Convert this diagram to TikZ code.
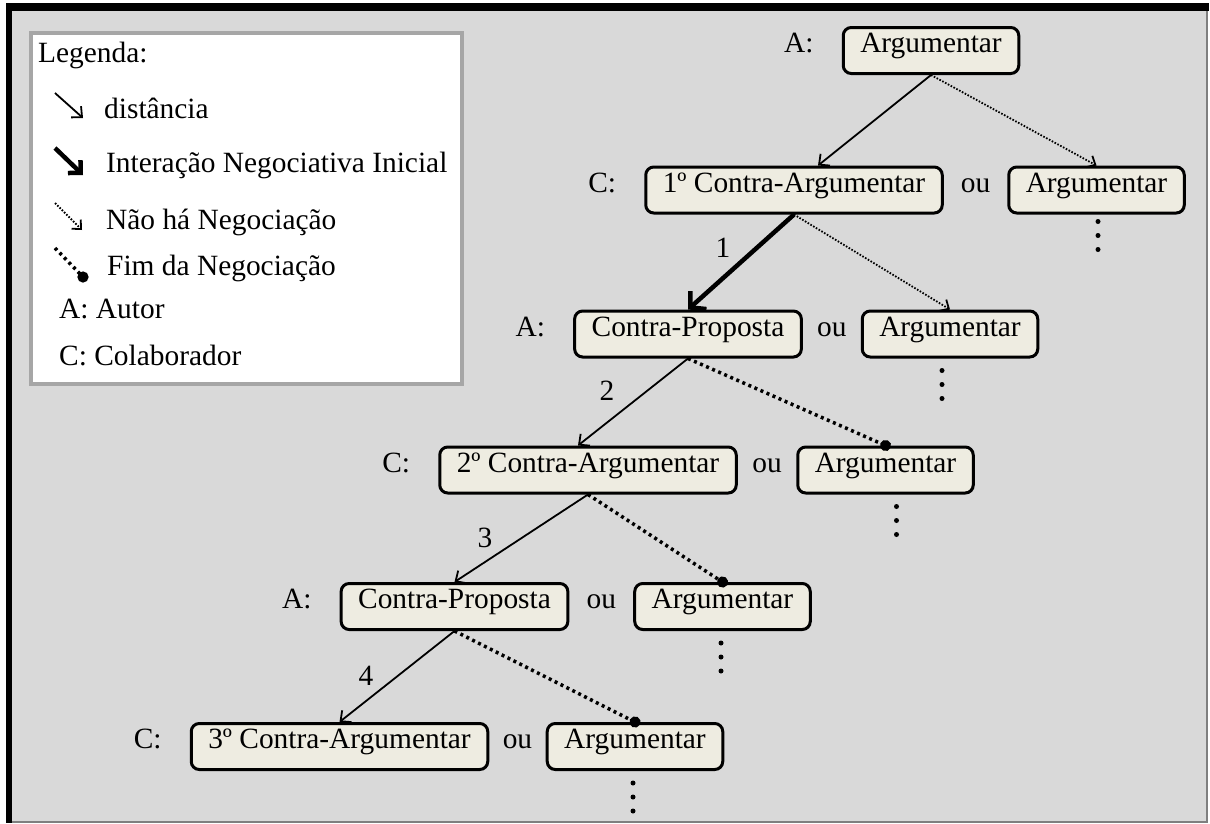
\documentclass[tikz,border=0pt]{standalone}
\usepackage{fontspec}
\setmainfont{Liberation Serif}
\usetikzlibrary{arrows.meta,calc}
\definecolor{panelgray}{HTML}{D9D9D9}
\definecolor{edgegray}{HTML}{7F7F7F}
\definecolor{keygray}{HTML}{A6A6A6}
\definecolor{cream}{HTML}{EEECE1}
\tikzset{
  txt/.style={font=\fontsize{29.4pt}{34pt}\selectfont, inner sep=0pt,
    text height=0.68em, text depth=0.22em},
  movebox/.style={txt, draw, line width=3pt, fill=cream, rounded corners=8pt,
    minimum height=46pt, inner xsep=17pt},
  dist/.style={line width=1.8pt, -{Straight Barb[length=8pt,width=15pt]}},
  initial/.style={line width=4.5pt, -{Straight Barb[length=11pt,width=24pt]}},
  nonego/.style={line width=1.8pt, dash pattern=on 1.6pt off 1.6pt,
    -{Straight Barb[length=7pt,width=13pt]}},
  endnego/.style={line width=3.5pt, dash pattern=on 3pt off 3.6pt,
    -{Circle[length=11pt]}, shorten >=-5.5pt},
  vdot/.style={circle, fill=black, inner sep=0pt, minimum size=5pt},
}
\begin{document}
\begin{tikzpicture}[x=1pt, y=-1pt]
\useasboundingbox (0,0) rectangle (1210,823);
\fill[white] (0,0) rectangle (1210,823);

% panel with its frame
\fill[panelgray] (9,7) rectangle (1208,822);
\draw[edgegray, line width=2pt] (1207,7) -- (1207,822) -- (9,822);
\draw[line width=8pt] (6,7) -- (1209,7);
\draw[line width=6pt] (9,3) -- (9,823);

% legend
\node[draw=keygray, line width=4pt, fill=white, inner sep=0pt,
  minimum width=431pt, minimum height=351pt, anchor=north west] (key) at (29,31) {};
\node[txt, anchor=base west] (kt0) at (38,62) {Legenda:};
\node[txt, anchor=base west] (kt1) at (104,118) {distância};
\node[txt, anchor=base west] (kt2) at (106,172) {Interação Negociativa Inicial};
\node[txt, anchor=base west] (kt3) at (106,229) {Não há Negociação};
\node[txt, anchor=base west] (kt4) at (107,275) {Fim da Negociação};
\node[txt, anchor=base west] (kt5) at (59,318) {A: Autor};
\node[txt, anchor=base west] (kt6) at (59,365) {C: Colaborador};
\coordinate (k1a) at (55,93);  \coordinate (k1b) at (83,118);
\coordinate (k2a) at (55,148); \coordinate (k2b) at (83,175);
\coordinate (k3a) at (55,203); \coordinate (k3b) at (82,230);
\coordinate (k4a) at (55,248); \coordinate (k4b) at (83,277);
\draw[dist] (k1a) -- (k1b);
\draw[initial, -{Straight Barb[length=9pt,width=18pt]}] (k2a) -- (k2b);
\draw[nonego] (k3a) -- (k3b);
\draw[endnego] (k4a) -- (k4b);

% moves of the negotiation
\node[movebox] (r1) at (931,50.5) {Argumentar};
\node[movebox] (c1) at (794,190) {1º Contra-Argumentar};
\node[movebox] (a2) at (1096.5,190) {Argumentar};
\node[movebox] (p1) at (688,334) {Contra-Proposta};
\node[movebox] (a3) at (950,334) {Argumentar};
\node[movebox] (c2) at (588,470) {2º Contra-Argumentar};
\node[movebox] (a4) at (885.5,470) {Argumentar};
\node[movebox] (p2) at (454.5,606.5) {Contra-Proposta};
\node[movebox] (a5) at (722.5,606.5) {Argumentar};
\node[movebox] (c3) at (339.5,746.5) {3º Contra-Argumentar};
\node[movebox] (a6) at (635,746.5) {Argumentar};

% speaker of each row
\node[txt, anchor=east] (s1) at ([xshift=-28pt]r1.west) {A:};
\node[txt, anchor=east] (s2) at ([xshift=-28pt]c1.west) {C:};
\node[txt, anchor=east] (s3) at ([xshift=-28pt]p1.west) {A:};
\node[txt, anchor=east] (s4) at ([xshift=-28pt]c2.west) {C:};
\node[txt, anchor=east] (s5) at ([xshift=-28pt]p2.west) {A:};
\node[txt, anchor=east] (s6) at ([xshift=-28pt]c3.west) {C:};

% alternatives
\node[txt] (o2) at ($(c1.east)!0.5!(a2.west)$) {ou};
\node[txt] (o3) at ($(p1.east)!0.5!(a3.west)$) {ou};
\node[txt] (o4) at ($(c2.east)!0.5!(a4.west)$) {ou};
\node[txt] (o5) at ($(p2.east)!0.5!(a5.west)$) {ou};
\node[txt] (o6) at ($(c3.east)!0.5!(a6.west)$) {ou};

% connectors
\draw[dist] (r1.south) -- ([xshift=24pt]c1.north);
\draw[nonego] (r1.south) -- (a2.north);
\draw[initial] (c1.south) -- (p1.north);
\draw[nonego] (c1.south) -- (a3.north);
\draw[dist] (p1.south) -- ([xshift=-10pt]c2.north);
\draw[endnego] (p1.south) -- (a4.north);
\draw[dist] (c2.south) -- (p2.north);
\draw[endnego] (c2.south) -- (a5.north);
\draw[dist] (p2.south) -- (c3.north);
\draw[endnego] (p2.south) -- (a6.north);

% distances
\node[txt] (n1) at (723,255) {1};
\node[txt] (n2) at (607,398) {2};
\node[txt] (n3) at (485,545) {3};
\node[txt] (n4) at (366,683) {4};

% continuation marks
\foreach \b/\dx/\dy in {a2/1.5/7, a3/-8/12, a4/11/12, a5/-1.5/12, a6/-2/12} {
  \node[vdot] (\b-d1) at ([xshift=\dx pt, yshift=-\dy pt]\b.south) {};
  \node[vdot] (\b-d2) at ([xshift=\dx pt, yshift=-\dy pt-14pt]\b.south) {};
  \node[vdot] (\b-d3) at ([xshift=\dx pt, yshift=-\dy pt-28pt]\b.south) {};
}
\end{tikzpicture}
\end{document}
